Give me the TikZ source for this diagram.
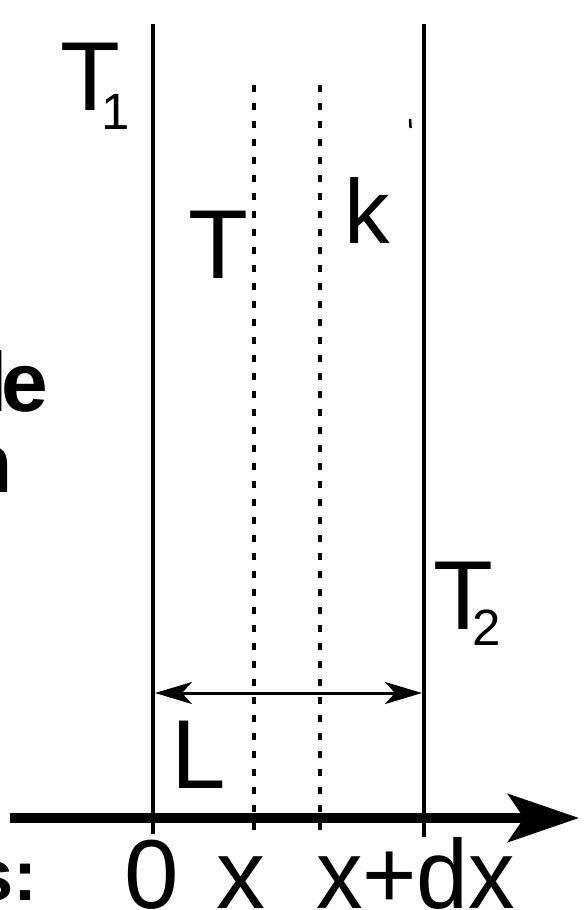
\documentclass[tikz,border=0pt]{standalone}
\usepackage{fontspec}
\setmainfont{Liberation Sans}
\usetikzlibrary{arrows.meta}
\begin{document}
\begin{tikzpicture}[x=1pt,y=-1pt,
  lbl/.style={inner sep=0pt,outer sep=0pt,anchor=base west,font=\fontsize{98}{98}\selectfont},
  sublbl/.style={inner sep=0pt,outer sep=0pt,anchor=base west,font=\fontsize{51}{51}\selectfont},
  boldlbl/.style={inner sep=0pt,outer sep=0pt,anchor=base west,font=\fontsize{84}{84}\selectfont\bfseries},
  wall/.style={line width=4pt},
  slab/.style={line width=4.5pt,dash pattern=on 7pt off 11pt},
  axisline/.style={line width=9.5pt,-{Stealth[length=71pt,width=48pt,inset=16pt]}},
  dimline/.style={line width=3pt,{Stealth[length=37pt,width=22pt,inset=10pt]}-{Stealth[length=37pt,width=22pt,inset=10pt]}},
  ]
\useasboundingbox (0,0) rectangle (588,910);
\clip (0,0) rectangle (588,910);
% coordinates
\coordinate (lwTop) at (153,24);
\coordinate (lwBot) at (153,834);
\coordinate (rwTop) at (424,24);
\coordinate (rwBot) at (424,837);
\coordinate (d1Top) at (254,85);
\coordinate (d1Bot) at (254,836);
\coordinate (d2Top) at (320,85);
\coordinate (d2Bot) at (320,836);
\coordinate (axL) at (10,818);
\coordinate (axR) at (579,818);
\coordinate (dimL) at (155,693);
\coordinate (dimR) at (422,693);
% walls and slices
\draw[wall] (lwTop) -- (lwBot);
\draw[wall] (rwTop) -- (rwBot);
\draw[slab] (d1Top) -- (d1Bot);
\draw[slab] (d2Top) -- (d2Bot);
% axis
\draw[axisline] (axL) -- (axR);
% dimension arrow
\draw[dimline] (dimL) -- (dimR);
% tiny mark
\coordinate (mkA) at (410,119);
\coordinate (mkB) at (410.6,128);
\draw[line width=2.5pt] (mkA) -- (mkB);
% labels
\node[lbl] (T1) at (60,110) {T};
\node[sublbl] (T1s) at (101.5,129) {1};
\node[lbl] (Tm) at (188,278) {T};
\node[lbl,font=\fontsize{91}{91}\selectfont] (k) at (344,243) {k};
\node[lbl] (T2) at (433,629) {T};
\node[sublbl] (T2s) at (472.5,645) {2};
\node[lbl] (L) at (171,788) {L};
\node[lbl] (zero) at (124,908) {0};
\node[lbl] (x) at (216,908) {x};
\node[lbl] (xdx) at (316,908) {\scalebox{0.95}[1]{x+dx}};
% cut-off bold text at left edge
\node[boldlbl] (le) at (-16,411) {l\kern-6pt e};
\node[boldlbl] (n) at (-38,492) {n};
\node[boldlbl,font=\fontsize{72}{72}\selectfont\bfseries] (s) at (-27,900) {s:};
\end{tikzpicture}
\end{document}
